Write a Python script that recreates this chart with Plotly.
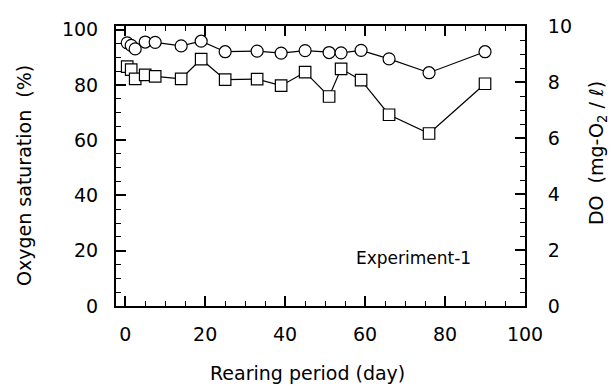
import plotly.graph_objects as go

# Rearing period (day)
days = [0.5, 1.5, 2.5, 5, 7.5, 14, 19, 25, 33, 39, 45, 51, 54, 59, 66, 76, 90]
# Oxygen saturation (%) - circles series
sat_circle = [95.2, 94.3, 93.0, 95.5, 95.4, 94.1, 95.8, 92.0, 92.2, 91.5, 92.4, 91.7, 91.6, 92.5, 89.4, 84.4, 92.0]
# Oxygen saturation (%) - squares series
sat_square = [86.6, 85.5, 82.2, 83.6, 83.1, 82.2, 89.3, 81.9, 82.1, 79.7, 84.6, 75.8, 85.8, 81.7, 69.2, 62.4, 80.4]

x_ticks = [0, 20, 40, 60, 80, 100]
y_ticks = [0, 20, 40, 60, 80, 100]
y2_ticks = [0, 2, 4, 6, 8, 10]

FONT = "DejaVu Sans"

fig = go.Figure()
fig.add_trace(go.Scatter(
    x=days, y=sat_circle, mode="lines+markers",
    line=dict(color="black", width=1.2),
    marker=dict(symbol="circle", size=12, color="white", line=dict(color="black", width=1.2)),
    showlegend=False))
fig.add_trace(go.Scatter(
    x=days, y=sat_square, mode="lines+markers",
    line=dict(color="black", width=1.2),
    marker=dict(symbol="square", size=11.5, color="white", line=dict(color="black", width=1.2)),
    showlegend=False))
# trace on the right axis (DO scale), drawn invisibly so the axis is shown
fig.add_trace(go.Scatter(x=[0], y=[0], yaxis="y2", mode="markers",
                         marker=dict(opacity=0), hoverinfo="skip", showlegend=False))

axis_common = dict(
    showgrid=False, zeroline=False, showline=True, linecolor="black", linewidth=2,
    ticks="inside", ticklen=10, tickwidth=1.5, tickcolor="black",
    tickfont=dict(family=FONT, size=19, color="black"),
)

fig.update_layout(
    width=616, height=387,
    margin=dict(l=116, r=91, t=26, b=81),
    paper_bgcolor="white", plot_bgcolor="white",
    font=dict(family=FONT, color="black"),
    xaxis=dict(range=[-2.3, 100], tickvals=x_ticks, mirror="ticks",
               minor=dict(dtick=5, tick0=0, ticks="inside", ticklen=5, tickwidth=1, tickcolor="black"),
               ticklabelstandoff=10, **axis_common),
    yaxis=dict(range=[0, 101.3], tickvals=y_ticks,
               minor=dict(dtick=5, tick0=0, ticks="inside", ticklen=5, tickwidth=1, tickcolor="black"),
               ticklabelstandoff=12, **axis_common),
    yaxis2=dict(range=[0, 10], tickvals=y2_ticks, overlaying="y", side="right",
                minor=dict(dtick=0.5, tick0=0, ticks="inside", ticklen=5, tickwidth=1, tickcolor="black"),
                ticklabelstandoff=17, **axis_common),
    annotations=[
        dict(text="Rearing period (day)", xref="paper", yref="paper", x=0.469, y=-0.239,
             showarrow=False, font=dict(family=FONT, size=19), xanchor="center", yanchor="middle"),
        dict(text="Oxygen saturation  (%)", xref="paper", yref="paper", x=-0.225, y=0.468,
             showarrow=False, textangle=-90, font=dict(family=FONT, size=19),
             xanchor="center", yanchor="middle"),
        dict(text="DO  (mg-O<sub>2</sub> / ℓ)", xref="paper", yref="paper", x=1.176, y=0.546,
             showarrow=False, textangle=-90, font=dict(family=FONT, size=19),
             xanchor="center", yanchor="middle"),
        dict(text="Experiment-1", xref="x", yref="y", x=72.0, y=17.4,
             showarrow=False, font=dict(family=FONT, size=17),
             xanchor="center", yanchor="middle"),
    ],
)

fig.write_html("out.html")
